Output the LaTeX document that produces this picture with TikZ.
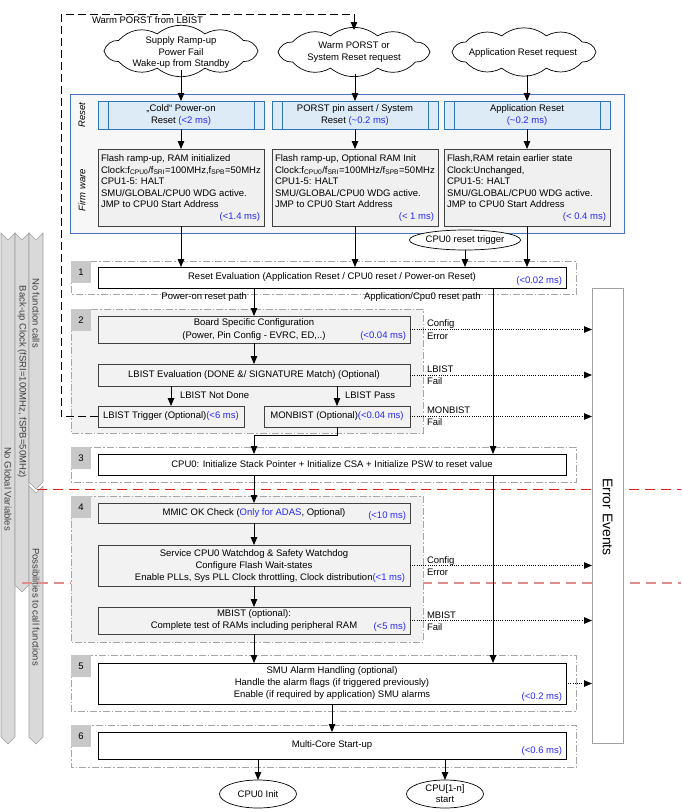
\documentclass[tikz,border=0pt]{standalone}
\usepackage{fontspec}
\setmainfont{Liberation Sans}
\usetikzlibrary{arrows.meta,shapes.geometric,calc}
\definecolor{tblue}{RGB}{40,40,255}
\definecolor{bframe}{RGB}{68,114,196}
\definecolor{bgfill}{RGB}{247,247,247}
\definecolor{hfill}{RGB}{221,235,247}
\definecolor{hdraw}{RGB}{46,117,182}
\definecolor{secfill}{RGB}{242,242,242}
\definecolor{fwfill}{RGB}{240,240,240}
\definecolor{secdraw}{RGB}{166,166,166}
\definecolor{numfill}{RGB}{200,200,200}
\definecolor{ribfill}{RGB}{217,217,217}
\definecolor{ribdraw}{RGB}{160,160,160}
\definecolor{ribtext}{RGB}{64,64,64}
\definecolor{redline}{RGB}{225,30,30}
\definecolor{paleline}{RGB}{225,140,140}
\definecolor{boxdraw}{RGB}{64,64,64}
\definecolor{errdraw}{RGB}{160,160,160}
% #1 cx, #2 cy, #3 a, #4 b, #5 number of puffs
\newcommand\mycloudpath[5]{%
  \draw[line width=0.7pt, fill=white] ({#1+#3},#2)
    \foreach \k in {1,...,#5}{ to[bend left=38] ({#1+#3*cos(360*\k/#5)},{#2+#4*sin(360*\k/#5)}) } -- cycle;}
\begin{document}
\begin{tikzpicture}[x=1pt,y=-1pt,
  every node/.style={font=\fontsize{9.5}{12}\selectfont, inner sep=0pt, outer sep=0pt},
  arr/.style={-{Triangle[length=8pt,width=6.5pt]}, line width=0.8pt, black},
  errarr/.style={-{Triangle[length=8pt,width=6.5pt]}, line width=1pt, dash pattern=on 1pt off 1.2pt, black},
  loopdash/.style={line width=1pt, dash pattern=on 8pt off 4pt, black},
  wbox/.style={rectangle, draw=black, fill=white, line width=0.8pt, align=center},
  gbox/.style={rectangle, draw=boxdraw, fill=secfill, line width=1pt, align=center},
  hbox/.style={rectangle, draw=hdraw, fill=hfill, line width=0.6pt, align=center, minimum width=166pt, minimum height=28pt},
  fwbox/.style={rectangle, draw=boxdraw, fill=fwfill, line width=1pt, minimum width=166pt, minimum height=77pt},
  fwtxt/.style={anchor=north west, align=left, font=\fontsize{9.5}{11.5}\selectfont},
  tm/.style={text=tblue, anchor=east},
  lbl/.style={anchor=west, align=left, font=\fontsize{9.5}{12.5}\selectfont},
  secw/.style={draw=secdraw, fill=white, line width=0.7pt, dash pattern=on 7pt off 2pt on 1.5pt off 2pt},
  secg/.style={secw, fill=secfill},
  numbox/.style={rectangle, fill=numfill, minimum width=20pt, minimum height=22pt},
  rib/.style={draw=ribdraw, fill=ribfill, line width=0.6pt},
  ribtxt/.style={rotate=-90, text=ribtext},
  cloudanchor/.style={ellipse},
  oval/.style={ellipse, draw=black, fill=white, line width=0.7pt, align=center},
  redl/.style={draw=redline, line width=0.9pt, dash pattern=on 10pt off 6pt},
  palel/.style={draw=paleline, line width=1.1pt, dash pattern=on 10pt off 6pt}
]
\useasboundingbox (0,0) rectangle (681,812);

% left ribbons
\draw[rib] (1,233) -- (8,240) -- (15,233) -- (15,737) -- (8,744) -- (1,737) -- cycle;
\draw[rib] (15,233) -- (22,240) -- (29,233) -- (29,585) -- (22,592) -- (15,585) -- cycle;
\draw[rib] (29,233) -- (36,240) -- (43,233) -- (43,482) -- (36,489) -- (29,482) -- cycle;
\draw[rib] (29,486) -- (36,493) -- (43,486) -- (43,737) -- (36,744) -- (29,737) -- cycle;
\node[ribtxt] (tA) at (8,489) {No Global Variables};
\node[ribtxt] (tB) at (22,382) {Back-up Clock (fSRI=100MHz, fSPB=50MHz)};
\node[ribtxt] (tC) at (36,313) {No function calls};
\node[ribtxt] (tD) at (36,607) {Possibilities to call functions};

% horizontal phase lines
\draw[redl] (37,489) -- (681,489);
\draw[palel] (22,583) -- (681,583);

% blue firmware area
\draw[bframe, fill=bgfill, line width=0.8pt] (70,94) rectangle (624,233);
\node[rotate=90, font=\itshape\fontsize{9.5}{12}\selectfont] (lreset) at (82,115) {Reset};
\node[rotate=90, font=\itshape\fontsize{9.5}{12}\selectfont] (lfirm) at (82,190) {Firm ware};

% clouds
\mycloudpath{181}{51}{77}{18}{10}
\node[cloudanchor, minimum width=162pt, minimum height=42pt] (c1) at (181,49) {};
\node[align=center, font=\fontsize{9.5}{11.5}\selectfont] (c1t) at (181,53) {Supply Ramp-up\\Power Fail\\Wake-up from Standby};
\mycloudpath{354}{52}{76}{17}{10}
\node[cloudanchor, minimum width=159pt, minimum height=44pt] (c2) at (354,52) {};
\node[align=center] (c2t) at (354,52.5) {Warm PORST or\\System Reset request};
\mycloudpath{524}{52}{72}{17}{10}
\node[cloudanchor, minimum width=151pt, minimum height=46pt] (c3) at (524,52) {};
\node (c3t) at (523,53) {Application Reset request};

% header boxes
\node[hbox] (r1) at (181,115) {„Cold“ Power-on\\Reset {\color{tblue}(<2 ms)}};
\node[hbox] (r2) at (355,115) {PORST pin assert / System\\Reset {\color{tblue}(\textasciitilde0.2 ms)}};
\node[hbox] (r3) at (527,115) {Application Reset\\{\color{tblue}(\textasciitilde0.2 ms)}};
\foreach \r in {r1,r2,r3}{
  \draw[hdraw, line width=0.6pt] ($(\r.north west)+(10,0)$) -- ($(\r.south west)+(10,0)$);
  \draw[hdraw, line width=0.6pt] ($(\r.north east)+(-10,0)$) -- ($(\r.south east)+(-10,0)$);
}

% firmware boxes
\node[fwbox] (f1) at (181,187.5) {};
\node[fwbox] (f2) at (355,187.5) {};
\node[fwbox] (f3) at (527,187.5) {};
\node[fwtxt] (f1t) at ($(f1.north west)+(3,6)$) {Flash ramp-up, RAM initialized\\Clock:f\textsubscript{CPU0}/f\textsubscript{SRI}=100MHz,f\textsubscript{SPB}=50MHz\\CPU1-5: HALT\\SMU/GLOBAL/CPU0 WDG active.\\JMP to CPU0 Start Address};
\node[fwtxt] (f2t) at ($(f2.north west)+(3,6)$) {Flash ramp-up, Optional RAM Init\\Clock:f\textsubscript{CPU0}/f\textsubscript{SRI}=100MHz/f\textsubscript{SPB}=50MHz\\CPU1-5: HALT\\SMU/GLOBAL/CPU0 WDG active.\\JMP to CPU0 Start Address};
\node[fwtxt] (f3t) at ($(f3.north west)+(3,6)$) {Flash,RAM retain earlier state\\Clock:Unchanged,\\CPU1-5: HALT\\SMU/GLOBAL/CPU0 WDG active.\\JMP to CPU0 Start Address};
\node[tm] (f1m) at ($(f1.south east)+(-4,-9)$) {(<1.4 ms)};
\node[tm] (f2m) at ($(f2.south east)+(-4,-9)$) {(< 1 ms)};
\node[tm] (f3m) at ($(f3.south east)+(-4,-9)$) {(< 0.4 ms)};

% loop label
\node[anchor=west] (warm) at (92,20) {Warm PORST from LBIST};

% sections
\draw[secw] (71,261) rectangle (576,294);
\draw[secg] (71,309) rectangle (423,433);
\draw[secw] (71,447) rectangle (576,482);
\draw[secg] (71,496) rectangle (423,642);
\draw[secw] (71,655) rectangle (576,711);
\draw[secw] (71,725) rectangle (576,767);
\node[numbox] (n1) at (81,272) {1};
\node[numbox] (n2) at (81,320) {2};
\node[numbox] (n3) at (81,458) {3};
\node[numbox] (n4) at (81,507) {4};
\node[numbox] (n5) at (81,666) {5};
\node[numbox] (n6) at (81,736) {6};

% trigger ellipse
\node[oval, minimum width=104pt, minimum height=20pt] (trig) at (465,240) {CPU0 reset trigger};

% process boxes
\node[wbox, minimum width=468pt, minimum height=21pt] (eval) at (332,277.5) {Reset Evaluation (Application Reset / CPU0 reset / Power-on Reset)};
\node[tm] (evalm) at (562,281) {(<0.02 ms)};
\node[anchor=east] (pop) at (247,297) {Power-on reset path};
\node[anchor=west] (app) at (364,297) {Application/Cpu0 reset path};

\node[gbox, minimum width=312pt, minimum height=27pt, font=\fontsize{9.5}{13}\selectfont] (board) at (254,329.5) {Board Specific Configuration\\(Power, Pin Config - EVRC, ED,..)};
\node[tm] (boardm) at (406,336) {(<0.04 ms)};
\node[gbox, minimum width=312pt, minimum height=22pt] (lbe) at (254,375) {LBIST Evaluation (DONE \&/ SIGNATURE Match) (Optional)};
\node[gbox, minimum width=146pt, minimum height=21pt] (lbt) at (171,416.5) {LBIST Trigger (Optional){\color{tblue}(<6 ms)}};
\node[gbox, minimum width=146pt, minimum height=21pt] (mon) at (337,416.5) {MONBIST (Optional){\color{tblue}(<0.04 ms)}};
\node[anchor=west] (lnd) at (180,395) {LBIST Not Done};
\node[anchor=west] (lps) at (345,395) {LBIST Pass};

\node[wbox, minimum width=468pt, minimum height=21pt] (init) at (332,464.5) {CPU0: Initialize Stack Pointer + Initialize CSA + Initialize PSW to reset value};

\node[gbox, minimum width=312pt, minimum height=20pt] (mmic) at (254,513) {MMIC OK Check ({\color{tblue}Only for ADAS}, Optional)};
\node[tm] (mmicm) at (406,516) {(<10 ms)};
\node[gbox, minimum width=312pt, minimum height=41pt] (svc) at (254,565.5) {};
\node[align=center] (svct) at (254,560) {Service CPU0 Watchdog \& Safety Watchdog\\Configure Flash Wait-states};
\node (svct2) at (270,578) {Enable PLLs, Sys PLL Clock throttling, Clock distribution{\color{tblue}(<1 ms)}};
\node[gbox, minimum width=312pt, minimum height=27pt] (mbist) at (254,620.5) {MBIST (optional):\\Complete test of RAMs including peripheral RAM};
\node[tm] (mbistm) at (406,627) {(<5 ms)};

\node[wbox, minimum width=468pt, minimum height=41pt] (smu) at (332,683.5) {SMU Alarm Handling (optional)\\Handle the alarm flags (if triggered previously)\\Enable (if required by application) SMU alarms};
\node[tm] (smum) at (562,697) {(<0.2 ms)};
\node[wbox, minimum width=468pt, minimum height=27pt] (mc) at (332,745.5) {Multi-Core Start-up};
\node[tm] (mcm) at (562,751) {(<0.6 ms)};

\node[oval, minimum width=77pt, minimum height=28pt] (cpu0) at (258,794) {CPU0 Init};
\node[oval, minimum width=77pt, minimum height=28pt, font=\fontsize{9.5}{11}\selectfont] (cpun) at (445,794) {CPU[1-n]\\start};

% connectors
\draw[arr] (c1.south -| r1.north) -- (r1.north);
\draw[arr] (c2.south -| r2.north) -- (r2.north);
\draw[arr] (c3.south -| r3.north) -- (r3.north);
\draw[arr] (r1.south) -- (f1.north);
\draw[arr] (r2.south) -- (f2.north);
\draw[arr] (r3.south) -- (f3.north);
\draw[arr] (f1.south) -- (f1.south |- eval.north);
\draw[arr] (f2.south) -- (f2.south |- eval.north);
\draw[arr] (f3.south) -- (f3.south |- eval.north);
\draw[arr] (trig.south) -- (trig.south |- eval.north);
\draw[loopdash, -{Triangle[length=8pt,width=6.5pt]}] (lbt.west) -- (61,416.5) -- (61,14) -- (354,14) -- (c2.north);

\coordinate (apx) at (493,0);
\draw[arr] (apx |- eval.south) -- (apx |- init.north);
\draw[arr] (apx |- init.south) -- (apx |- smu.north);
\draw[arr] (board.north |- eval.south) -- (board.north);
\draw[arr] (board.south) -- (lbe.north);
\draw[arr] (lbt.north |- lbe.south) -- (lbt.north);
\draw[arr] (mon.north |- lbe.south) -- (mon.north);
\coordinate (mj) at (337,435);
\draw[arr] (mon.south) -- (mj) -- (mj -| board.south) -- (init.north -| board.south);
\draw[arr] (mmic.north |- init.south) -- (mmic.north);
\draw[arr] (mmic.south) -- (svc.north);
\draw[arr] (svc.south) -- (mbist.north);
\draw[arr] (mbist.south) -- (mbist.south |- smu.north);
\draw[arr] (smu.south) -- (mc.north);
\draw[arr] (cpu0.north |- mc.south) -- (cpu0.north);
\draw[arr] (cpun.north |- mc.south) -- (cpun.north);

% error events
\node[rectangle, draw=errdraw, fill=white, line width=1pt, minimum width=31pt, minimum height=455pt] (err) at (607.5,515.5) {};
\node[rotate=-90, font=\fontsize{14}{16}\selectfont] (errt) at (607.5,517) {Error Events};
\draw[errarr] (board.east) -- (board.east -| err.west);
\draw[errarr] (lbe.east) -- (lbe.east -| err.west);
\draw[errarr] (mon.east) -- (mon.east -| err.west);
\draw[errarr] (svc.east) -- (svc.east -| err.west);
\draw[errarr] (mbist.east) -- (mbist.east -| err.west);
\draw[errarr] (smu.east) -- (smu.east -| err.west);
\node[lbl] (e1) at (427,329.5) {Config\\Error};
\node[lbl] (e2) at (427,375) {LBIST\\Fail};
\node[lbl] (e3) at (427,416) {MONBIST\\Fail};
\node[lbl] (e4) at (427,566) {Config\\Error};
\node[lbl] (e5) at (427,621) {MBIST\\Fail};
\end{tikzpicture}
\end{document}
